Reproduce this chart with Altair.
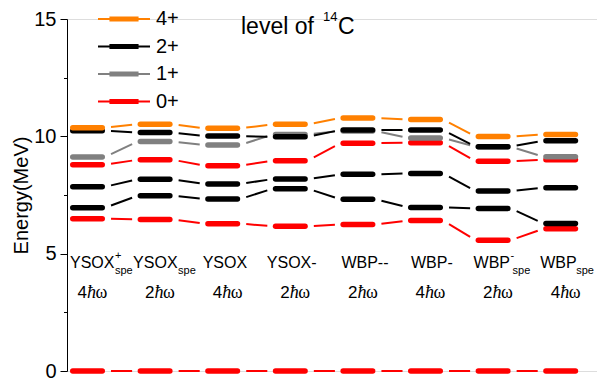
import altair as alt
import pandas as pd

# ---------------- data ----------------
col_names = ["YSOX", "YSOX", "YSOX", "YSOX-", "WBP--", "WBP-", "WBP", "WBP"]
col_sup = ["+", "", "", "", "", "", "-", ""]
col_sub = ["spe", "spe", "", "", "", "", "spe", "spe"]
hw_num = ["4", "2", "4", "2", "2", "4", "2", "4"]

series_names = ["4+", "2+", "1+", "0+"]
series_colors = ["#FF8000", "#000000", "#808080", "#FF0000"]

e_0p_a = [0.0, 0.0, 0.0, 0.0, 0.0, 0.0, 0.0, 0.0]
e_0p_b = [6.49, 6.46, 6.28, 6.17, 6.24, 6.41, 5.57, 6.06]
e_0p_c = [8.79, 9.00, 8.75, 8.96, 9.71, 9.73, 8.94, 9.00]
e_1p = [9.12, 9.78, 9.63, 10.08, 10.23, 9.93, 9.56, 9.13]
e_2p_a = [10.24, 10.16, 10.01, 9.98, 10.27, 10.27, 9.56, 9.81]
e_2p_b = [7.85, 8.17, 7.97, 8.18, 8.38, 8.42, 7.67, 7.81]
e_2p_c = [6.96, 7.47, 7.33, 7.77, 7.32, 6.97, 6.93, 6.29]
e_4p = [10.37, 10.52, 10.34, 10.51, 10.78, 10.72, 9.99, 10.08]

# draw order (first drawn at the bottom)
levels = [
    ("0+", e_0p_a), ("0+", e_0p_b), ("0+", e_0p_c),
    ("1+", e_1p),
    ("2+", e_2p_a), ("2+", e_2p_b), ("2+", e_2p_c),
    ("4+", e_4p),
]

# ---------------- layout ----------------
PX = 67.6               # pixels per column
W, H = 530, 352
XMIN = -(87.5 - 67) / PX
XMAX = XMIN + W / PX
BAR_HALF = 14.75 / PX   # rule half length (round caps add the rest)
EDGE = 17.5 / PX        # visual bar half width
C0, C1 = 0.348, 0.340   # connector start / end offsets
GAP = 1 - 2 * EDGE
F0 = (C0 - EDGE) / GAP
F1 = (1 - C1 - EDGE) / GAP
FONT = "Liberation Sans"

name_dx = [-17.5, -22, -20, -23.5, -16.5, -14.5, -19.5, -20.5]   # px from column centre
sup_dx = [27.5, 0, 0, 0, 0, 0, 17.5, 0]
sub_dx = [27.5, 23, 0, 0, 0, 0, 19.5, 15.5]

bar_rows, con_rows = [], []
for k, (s, vals) in enumerate(levels):
    for i, v in enumerate(vals):
        bar_rows.append({"x": i - BAR_HALF, "x2": i + BAR_HALF, "y": v, "series": s})
        if i < len(vals) - 1:
            d = vals[i + 1] - v
            con_rows.append({"x": i + C0, "x2": i + 1 - C1,
                             "y": v + d * F0, "y2": v + d * F1, "series": s})
bars = pd.DataFrame(bar_rows)
cons = pd.DataFrame(con_rows)

xscale = alt.Scale(domain=[XMIN, XMAX], nice=False, zero=False)
yscale = alt.Scale(domain=[0, 15], nice=False, zero=False)
cscale = alt.Scale(domain=series_names, range=series_colors)

yaxis = alt.Axis(
    values=[0, 2.5, 5, 7.5, 10, 12.5, 15],
    labelExpr="datum.value % 5 == 0 ? datum.label : ''",
    format="d",
    tickSize={"condition": {"test": "datum.value % 5 == 0", "value": 7}, "value": 3.5},
    labelFontSize=20, labelFont=FONT, labelColor="black", labelPadding=4,
    domainColor="black", tickColor="black", grid=False,
    title="Energy(MeV)", titleFontSize=20, titleFont=FONT,
    titleFontWeight="normal", titleColor="black", titlePadding=2,
)

legend = alt.Legend(
    orient="none", legendX=46, legendY=-11, title=None, padding=0,
    symbolType="M-2.6,0H2.6M-1.456,-0.156H1.456M-1.456,0.156H1.456",
    symbolSize=400, symbolStrokeWidth=2,
    labelFontSize=20, labelFont=FONT, labelColor="black", labelOffset=21,
    rowPadding=6.5,
)

bar_layer = alt.Chart(bars).mark_rule(strokeWidth=5.5, strokeCap="round").encode(
    x=alt.X("x:Q", scale=xscale, axis=None),
    x2="x2:Q",
    y=alt.Y("y:Q", scale=yscale, axis=yaxis),
    color=alt.Color("series:N", scale=cscale, legend=legend),
)

con_layer = alt.Chart(cons).mark_rule(strokeWidth=2).encode(
    x=alt.X("x:Q", scale=xscale, axis=None),
    x2="x2:Q",
    y=alt.Y("y:Q", scale=yscale, axis=yaxis),
    y2="y2:Q",
    color=alt.Color("series:N", scale=cscale, legend=legend),
)

cols = list(range(len(col_names)))
names_df = pd.DataFrame({"u": [i + name_dx[i] / PX for i in cols], "t": col_names})
sup_df = pd.DataFrame({"u": [i + sup_dx[i] / PX for i in cols if col_sup[i]],
                       "t": [col_sup[i] for i in cols if col_sup[i]]})
sub_df = pd.DataFrame({"u": [i + sub_dx[i] / PX for i in cols if col_sub[i]],
                       "t": [col_sub[i] for i in cols if col_sub[i]]})
hw_df = pd.DataFrame({"u": cols, "n": hw_num, "h": ["ħ"] * len(cols), "w": ["ω"] * len(cols)})


def txt(df, field, ypx, size, align="left", dx=0, font=FONT, style="normal"):
    return alt.Chart(df).mark_text(
        align=align, baseline="alphabetic", fontSize=size, font=font,
        fontStyle=style, color="black", dx=dx,
    ).encode(x=alt.X("u:Q", scale=xscale, axis=None), y=alt.value(ypx), text=f"{field}:N")


names = txt(names_df, "t", 249, 16)
sups = txt(sup_df, "t", 240, 11)
subs = txt(sub_df, "t", 255, 11)
hw1 = txt(hw_df, "n", 279, 17, dx=-10)
hw2 = txt(hw_df, "h", 279, 18, dx=-0.5, font="Liberation Serif", style="italic")
hw3 = txt(hw_df, "w", 279, 18, dx=8, font="Liberation Serif")


def note(text, xpx, ypx, size):
    return alt.Chart(pd.DataFrame({"t": [text]})).mark_text(
        align="left", baseline="alphabetic", fontSize=size, font=FONT, color="black"
    ).encode(x=alt.value(xpx), y=alt.value(ypx), text="t:N")


title1 = note("level of", 174, 15, 23)
title2 = note("14", 256, 2, 13)
title3 = note("C", 271, 15, 23)

chart = alt.layer(
    con_layer, bar_layer, names, sups, subs, hw1, hw2, hw3, title1, title2, title3
).properties(
    width=W, height=H,
    autosize=alt.AutoSizeParams(type="none"),
    padding={"left": 59, "top": 11, "right": 0, "bottom": 10},
).configure_view(stroke=None).configure(background="white")

chart.save("out.html", embed_options={"renderer": "svg", "actions": False})
